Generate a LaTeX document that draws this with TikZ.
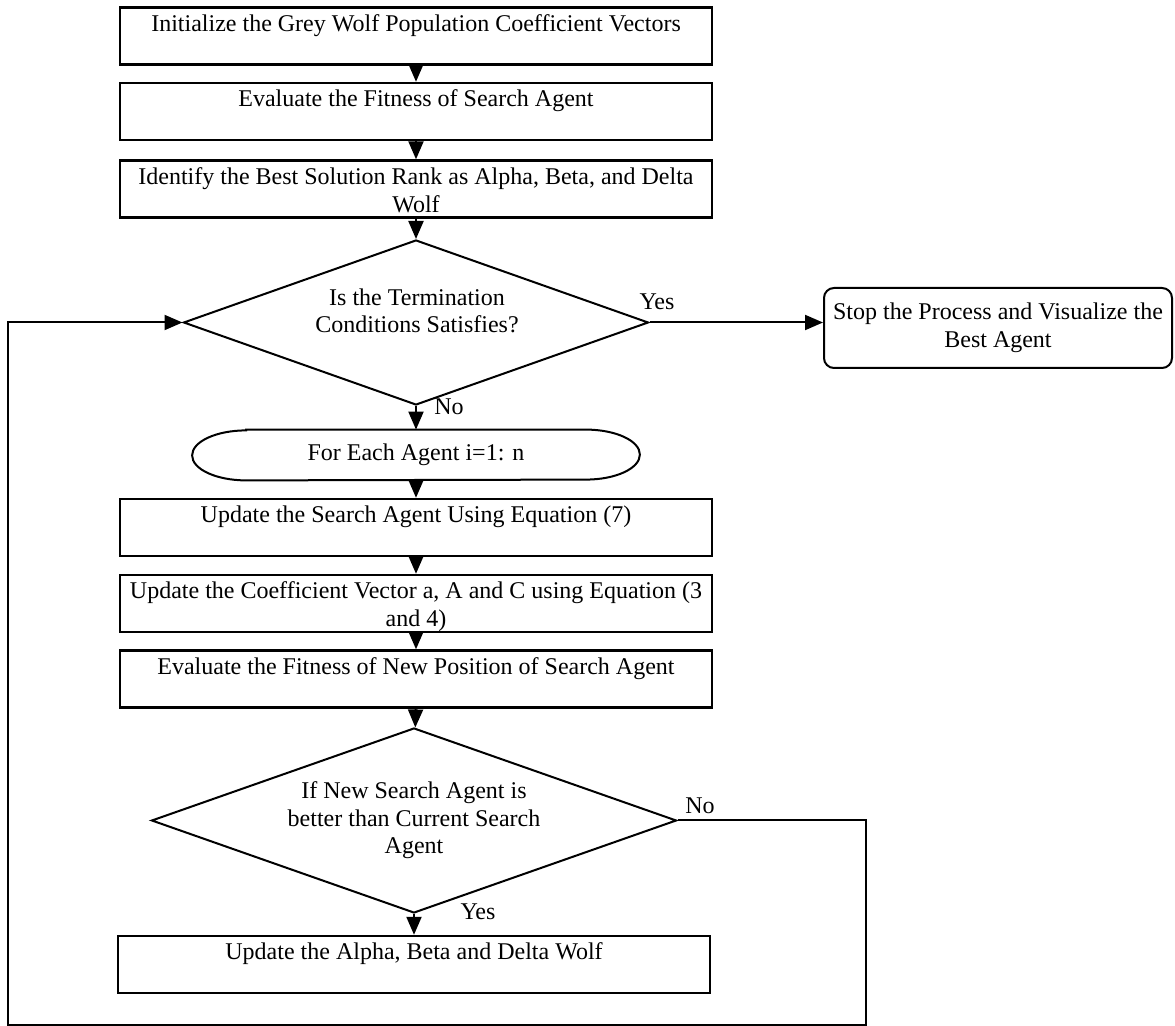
\documentclass[tikz,border=0pt]{standalone}
\usepackage{fontspec}
\setmainfont{Liberation Serif}
\usepackage{tikz}
\usetikzlibrary{arrows.meta,shapes.geometric}

\tikzset{
	every node/.append style={font=\fontsize{12pt}{13.8pt}\selectfont},
	procbox/.style={draw, line width=1.2pt, rectangle, minimum width=296pt, text width=296pt, inner xsep=0pt, inner ysep=0pt, align=flush center, text height=12pt, text depth=16.5pt},
	decision/.style={draw, line width=1pt, diamond, aspect=2.8, inner sep=0pt, align=center},
	stopbox/.style={draw, line width=1pt, rectangle, rounded corners=5pt, minimum width=174pt, minimum height=40pt, align=center},
	lbl/.style={inner sep=0pt},
	arr/.style={line width=1pt, -{Triangle[length=9pt,width=7.5pt]}},
}

\begin{document}
\begin{tikzpicture}[x=0.5pt,y=-0.5pt]
			\useasboundingbox (0,0) rectangle (1175,1026);
			% main column
			\node[procbox] (init) at (416,36) {Initialize the Grey Wolf Population Coefficient Vectors};
			\node[procbox] (fit) at (416,111.5) {Evaluate the Fitness of Search Agent};
			\node[procbox] (rank) at (416,189) {Identify the Best Solution Rank as Alpha, Beta, and Delta\\Wolf};
			\node[decision, minimum width=232.5pt, minimum height=82.5pt] (term) at (416,322.5) {};
			\node[align=center] (termtxt) at (417,311) {Is the Termination\\Conditions Satisfies?};
			\node[stopbox] (stop) at (998,328) {Stop the Process and Visualize the\\Best Agent};

			\node[inner sep=0pt, minimum width=223.5pt, minimum height=25pt] (each) at (416,455) {For Each Agent i=1: n};
			\draw[line width=1pt] ([xshift=27pt]each.north west) -- ([xshift=-27pt]each.north east) arc[start angle=90, end angle=-90, x radius=27pt, y radius=12.5pt] -- ([xshift=27pt]each.south west) arc[start angle=270, end angle=90, x radius=27pt, y radius=12.5pt] -- cycle;

			\node[procbox] (upd) at (416,527.5) {Update the Search Agent Using Equation (7)};
			\node[procbox] (coef) at (416,603.5) {Update the Coefficient Vector a, A and C using Equation (3\\and 4)};
			\node[procbox] (newfit) at (416,679) {Evaluate the Fitness of New Position of Search Agent};
			\node[decision, minimum width=262.5pt, minimum height=92.5pt] (better) at (414,820.5) {If New Search Agent is\\better than Current Search\\Agent};
			\node[procbox] (alpha) at (414,964.5) {Update the Alpha, Beta and Delta Wolf};

			% labels
			\node[lbl] (yes1) at (657,302) {Yes};
			\node[lbl] (no1) at (449,407) {No};
			\node[lbl] (no2) at (700,806) {No};
			\node[lbl] (yes2) at (478,912) {Yes};

			% arrows
			\draw[arr] (init) -- (fit);
			\draw[arr] (fit) -- (rank);
			\draw[arr] (rank) -- (term);
			\draw[arr] (term.east) -- (term.east -| stop.west);
			\draw[arr] (term) -- (each);
			\draw[arr] (each) -- (upd);
			\draw[arr] (upd) -- (coef);
			\draw[arr] (coef) -- (newfit);
			\draw[arr] (newfit) -- (better);
			\draw[arr] (better) -- (alpha);

			% loop back
			\coordinate (loopr) at (866,1025);
			\coordinate (loopl) at (8,1025);
			\draw[arr] (better.east) -| (loopr) -- (loopl) |- (term.west);
		\end{tikzpicture}
\end{document}
